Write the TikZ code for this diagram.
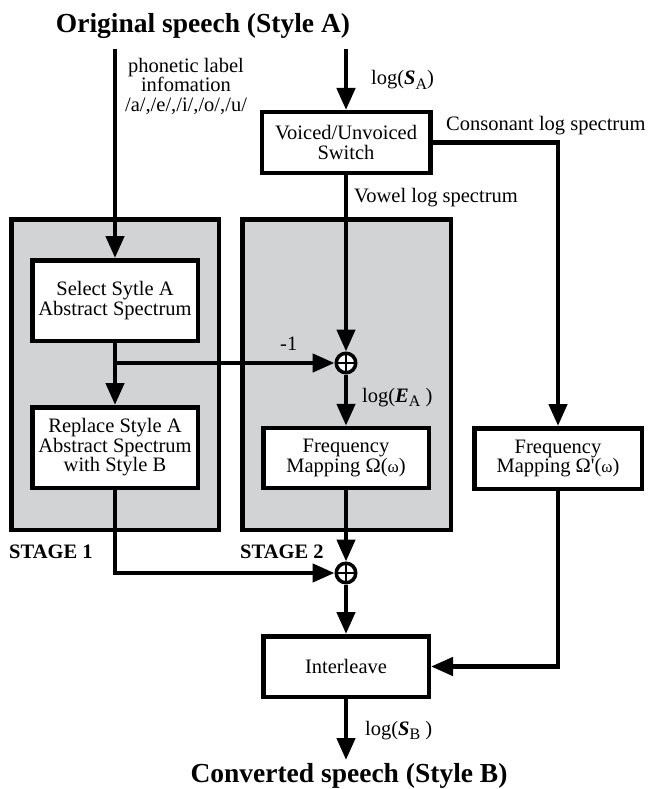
\documentclass[tikz,border=0pt]{standalone}
\usepackage{fontspec}
\setmainfont{Liberation Serif}
\usetikzlibrary{arrows.meta}
\definecolor{panel}{RGB}{209,211,213}
\newcommand{\lowidx}[1]{\raisebox{-0.22em}{\fontsize{16}{16}\selectfont #1}}
\newcommand{\smallomega}{{\fontsize{17}{17}\selectfont ω}}
\begin{document}
\begin{tikzpicture}[x=1pt,y=-1pt,
  txt/.style={font=\fontsize{20.5}{19.5}\selectfont, inner sep=0pt},
  ttl/.style={font=\fontsize{27.5}{30}\selectfont\bfseries, inner sep=0pt},
  stg/.style={font=\fontsize{20.5}{22}\selectfont\bfseries, inner sep=0pt},
  box/.style={draw, line width=4.5pt, fill=white, align=center, inner sep=0pt,
              font=\fontsize{20.5}{19.5}\selectfont},
  panelbox/.style={draw, line width=4.5pt, fill=panel, inner sep=0pt},
  arr/.style={line width=4.5pt, -{Triangle[length=22pt,width=18pt]}},
  sumnode/.style={circle, draw, line width=3.5pt, fill=white, minimum size=19.5pt, inner sep=0pt,
    path picture={\draw[line width=2.8pt] (path picture bounding box.north) -- (path picture bounding box.south)
      (path picture bounding box.west) -- (path picture bounding box.east);}}
]
\useasboundingbox (0,0) rectangle (650,789);

% panels
\node[panelbox, minimum width=207.5pt, minimum height=310.5pt] (stage1) at (115,374.5) {};
\node[panelbox, minimum width=208.5pt, minimum height=310.5pt] (stage2) at (346.5,374.5) {};

% titles
\node[ttl, anchor=base] (title1) at (203,33) {Original speech (Style A)};
\node[ttl, anchor=base] (title2) at (349,782) {Converted speech (Style B)};

% boxes
\node[box, minimum width=165.5pt, minimum height=80.5pt] (sel) at (115,300.5) {Select Sytle A\\Abstract Spectrum};
\node[box, minimum width=165.5pt, minimum height=80.5pt] (rep) at (115,447.5) {Replace Style A\\Abstract Spectrum\\with Style B};
\node[box, minimum width=168.5pt, minimum height=60.5pt] (vu) at (346,142.5) {Voiced/Unvoiced\\Switch};
\node[box, minimum width=165.5pt, minimum height=60pt] (fm) at (346,458) {Frequency\\Mapping Ω(\smallomega)};
\node[box, minimum width=167.5pt, minimum height=60.5pt] (fmp) at (558,458.5) {Frequency\\Mapping Ω\textquotesingle(\smallomega)};
\node[box, minimum width=165.5pt, minimum height=60.5pt] (il) at (346,666.5) {Interleave};

% summing junctions
\node[sumnode] (sum1) at (346,363) {};
\node[sumnode] (sum2) at (346,573) {};

% free ends
\coordinate (inL) at (115,49);
\coordinate (inM) at (346,49);
\coordinate (j1) at (115,363);
\coordinate (outM) at (346,760);

% connectors
\draw[arr] (inL) -- (sel.north);
\draw[arr] (inM) -- (vu.north);
\draw[arr] (vu.south) -- (sum1.north);
\draw[arr] (sel.south) -- (rep.north);
\draw[arr] (j1) -- (sum1.west);
\draw[arr] (sum1.south) -- (fm.north);
\draw[arr] (vu.east) -| (fmp.north);
\draw[arr] (fm.south) -- (sum2.north);
\draw[arr] (rep.south) |- (sum2.west);
\draw[arr] (sum2.south) -- (il.north);
\draw[arr] (fmp.south) |- (il.east);
\draw[arr] (il.south) -- (outM);

% labels
\node[txt, anchor=north, align=center] (phon) at (186,58) {phonetic label\\infomation\\/a/,/e/,/i/,/o/,/u/};
\node[txt, anchor=base west] (lsa) at (371,85) {log(\textbf{\textit{S}}\lowidx{A})};
\node[txt, anchor=base west] (cons) at (446,130) {Consonant log spectrum};
\node[txt, anchor=base west] (vow) at (354,202) {Vowel log spectrum};
\node[txt, anchor=base west] (m1) at (280,350) {-1};
\node[txt, anchor=base west] (lea) at (362,402) {log(\textbf{\textit{E}}\lowidx{A} )};
\node[stg, anchor=base west] (st1) at (9,558) {STAGE 1};
\node[stg, anchor=base west] (st2) at (240,558) {STAGE 2};
\node[txt, anchor=base west] (lsb) at (365,735) {log(\textbf{\textit{S}}\lowidx{B} )};
\end{tikzpicture}
\end{document}
